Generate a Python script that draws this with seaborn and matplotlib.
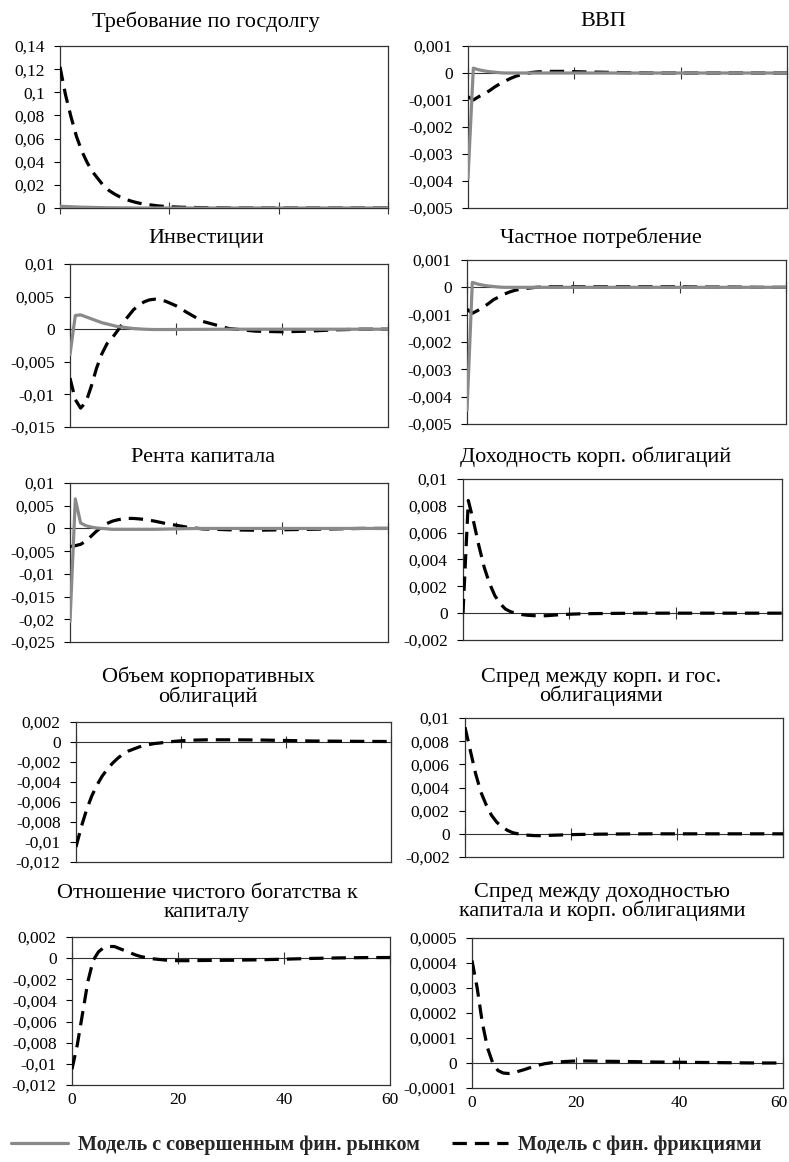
import matplotlib
matplotlib.use("Agg")
import matplotlib.pyplot as plt
import matplotlib.transforms as mtransforms
import seaborn as sns

# ---------------- data ----------------
T = [0, 1, 2, 3, 4, 5, 6, 7, 8, 9, 10, 11, 12, 13, 14, 15, 16,
     18, 20, 22, 25, 30, 35, 40, 45, 50, 55, 60]

titles = [
    "Требование по госдолгу",
    "ВВП",
    "Инвестиции",
    "Частное потребление",
    "Рента капитала",
    "Доходность корп. облигаций",
    "Объем корпоративных\nоблигаций",
    "Спред между корп. и гос.\nоблигациями",
    "Отношение чистого богатства к\nкапиталу",
    "Спред между доходностью\nкапитала и корп. облигациями",
]

series_names = ["Модель с совершенным фин. рынком", "Модель с фин. фрикциями"]

# perfect financial market model (grey solid)
perfect_debt = [0.0015, 0.0013, 0.0011, 0.0009, 0.0007, 0.0006, 0.0005, 0.0004, 0.0003, 0.0002, 0.0002,
                0.0001, 0.0001, 0.0001, 0, 0, 0, 0, 0, 0, 0, 0, 0, 0, 0, 0, 0, 0]
perfect_gdp = [-0.0039, 0.00018, 0.00012, 0.00008, 0.00005, 0.00003, 0.00001, 0, 0, 0, 0,
               0, 0, 0, 0, 0, 0, 0, 0, 0, 0, 0, 0, 0, 0, 0, 0, 0]
perfect_inv = [-0.0039, 0.0021, 0.0022, 0.0019, 0.0016, 0.0013, 0.001, 0.0008, 0.0006, 0.0004, 0.0003,
               0.0002, 0.0001, 0.00005, 0, -0.00003, -0.00005, -0.00005, -0.00004, -0.00003, -0.00002,
               0, 0, 0, 0, 0, 0, 0]
perfect_cons = [-0.0045, 0.00018, 0.00012, 0.00008, 0.00005, 0.00003, 0.00001, 0, 0, 0, 0,
                0, 0, 0, 0, 0, 0, 0, 0, 0, 0, 0, 0, 0, 0, 0, 0, 0]
perfect_rent = [-0.0205, 0.0065, 0.0012, 0.0006, 0.0003, 0.0001, 0, -0.0001, -0.0002, -0.0002, -0.0002,
                -0.0002, -0.0002, -0.0002, -0.0002, -0.0002, -0.0002, -0.00015, -0.0001, -0.00005, 0,
                0, 0, 0, 0, 0, 0, 0]

# model with financial frictions (black dashed)
fric_debt = [0.122, 0.098, 0.079, 0.062, 0.049, 0.039, 0.031, 0.025, 0.019, 0.015, 0.012,
             0.0095, 0.0075, 0.006, 0.0047, 0.0037, 0.003, 0.0018, 0.0011, 0.0007, 0.0004,
             0.0001, 0, 0, 0, 0, 0, 0]
fric_gdp = [-0.00088, -0.001, -0.00088, -0.00077, -0.00066, -0.00052, -0.0004, -0.0003, -0.0002,
            -0.00012, -0.00006, -0.00002, 0.00002, 0.00004, 0.00005, 0.00006, 0.00006, 0.00006,
            0.00005, 0.00004, 0.00003, 0.00001, 0, 0, 0, 0, 0, 0]
fric_inv = [-0.0075, -0.0108, -0.0121, -0.0112, -0.0088, -0.006, -0.0038, -0.0022, -0.0013, -0.0002,
            0.001, 0.002, 0.003, 0.0037, 0.0042, 0.0045, 0.0046, 0.0043, 0.0036, 0.0026, 0.0012,
            0.0001, -0.0003, -0.0004, -0.0003, -0.0001, 0, 0]
fric_cons = [-0.0008, -0.00095, -0.00085, -0.00073, -0.0006, -0.00045, -0.00035, -0.00025, -0.00017,
             -0.00011, -0.00007, -0.00004, -0.00002, 0, 0.00001, 0.00002, 0.00002, 0.00002, 0.00002,
             0.00002, 0.00002, 0.00002, 0.00002, 0.00002, 0.00001, 0.00001, 0, 0]
fric_rent = [-0.004, -0.0038, -0.0035, -0.0028, -0.0017, -0.0006, 0.0003, 0.0011, 0.0016, 0.0019,
             0.0021, 0.0022, 0.0022, 0.0021, 0.002, 0.0018, 0.0016, 0.0011, 0.0007, 0.0003, -0.0001,
             -0.0003, -0.0004, -0.0003, -0.0002, -0.0001, 0, 0]
fric_yield = [0, 0.0084, 0.0068, 0.005, 0.0034, 0.0022, 0.0013, 0.0007, 0.0003, 0.0001, 0,
              -0.0001, -0.00015, -0.00018, -0.0002, -0.0002, -0.00018, -0.00012, -0.00008, -0.00005,
              -0.00003, -0.00001, 0, 0, 0, 0, 0, 0]
fric_volume = [-0.0105, -0.0085, -0.0068, -0.0054, -0.0043, -0.0034, -0.0027, -0.0021, -0.0016, -0.0012,
               -0.0009, -0.0007, -0.0005, -0.00035, -0.00025, -0.00015, -0.0001, 0.00003, 0.00012,
               0.00018, 0.00022, 0.00022, 0.0002, 0.00015, 0.0001, 0.00008, 0.00006, 0.00005]
fric_spread_cg = [0.0092, 0.0072, 0.0052, 0.0036, 0.0025, 0.0016, 0.001, 0.0006, 0.0003, 0.0001, 0,
                  -0.0001, -0.00012, -0.00015, -0.00016, -0.00015, -0.00013, -0.0001, -0.00007,
                  -0.00005, -0.00003, -0.00001, 0, 0, 0, 0, 0, 0]
fric_networth = [-0.0105, -0.0082, -0.0052, -0.0022, -0.0002, 0.0006, 0.001, 0.0011, 0.0011, 0.0009,
                 0.0007, 0.0005, 0.0003, 0.00015, 0.00005, -0.00005, -0.0001, -0.0002, -0.00024,
                 -0.00024, -0.00022, -0.0002, -0.00016, -0.0001, -0.00003, 0.00002, 0.00005, 0.00006]
fric_spread_kb = [0.00041, 0.0003, 0.00016, 0.00006, 0, -0.00003, -0.00004, -0.000042, -0.00004,
                  -0.000033, -0.000027, -0.00002, -0.000014, -0.000008, -0.000003, 0, 0.000003,
                  0.000006, 0.000008, 0.000008, 0.000007, 0.000006, 0.000004, 0.000003, 0.000002,
                  0.000001, 0, 0]

perfect = [perfect_debt, perfect_gdp, perfect_inv, perfect_cons, perfect_rent,
           None, None, None, None, None]
friction = [fric_debt, fric_gdp, fric_inv, fric_cons, fric_rent,
            fric_yield, fric_volume, fric_spread_cg, fric_networth, fric_spread_kb]

y_limits = [(0, 0.14), (-0.005, 0.001), (-0.015, 0.01), (-0.005, 0.001), (-0.025, 0.01),
            (-0.002, 0.01), (-0.012, 0.002), (-0.002, 0.01), (-0.012, 0.002), (-0.0001, 0.0005)]
y_steps = [0.02, 0.001, 0.005, 0.001, 0.005, 0.002, 0.002, 0.002, 0.002, 0.0001]
x_ticks = [0, 20, 40, 60]

# ---------------- layout (pixels) ----------------
W, H = 789, 1162
boxes = [  # left, right, top, bottom
    (60, 388, 46, 208), (468, 787, 46, 208),
    (70, 388, 264, 427), (467, 786, 260, 424),
    (70, 388, 483, 642), (463, 782, 479, 640),
    (76, 391, 722, 862), (465, 783, 718, 857),
    (72, 390, 937, 1085), (472, 783, 938, 1088),
]
title_pos = [(206, 22), (603, 22), (206, 239), (601, 238), (203, 458), (596, 457),
             (208, 687), (601, 687), (207, 903), (602, 902)]

sns.set_theme(style="white")
plt.rcParams["font.family"] = ["Liberation Serif", "DejaVu Serif"]

GREY = "#8a8a8a"
DASH = (0, (4.5, 2.5))


def fmt(v):
    s = f"{round(v, 7):.6f}".rstrip("0").rstrip(".")
    if s in ("-0", ""):
        s = "0"
    return s.replace(".", ",")


fig = plt.figure(figsize=(W / 100, H / 100), dpi=100)
fig.patch.set_facecolor("white")

legend_handles = [None, None]
for i in range(10):
    l, r, t, b = boxes[i]
    ax = fig.add_axes([l / W, 1 - b / H, (r - l) / W, (b - t) / H])
    ax.set_facecolor("white")

    sns.lineplot(x=T, y=friction[i], ax=ax, color="black", linewidth=2.3,
                 linestyle=DASH, legend=False, zorder=3)
    if legend_handles[1] is None:
        legend_handles[1] = ax.lines[-1]
    if perfect[i] is not None:
        sns.lineplot(x=T, y=perfect[i], ax=ax, color=GREY, linewidth=2.3,
                     legend=False, zorder=4)
        if legend_handles[0] is None:
            legend_handles[0] = ax.lines[-1]

    ymin, ymax = y_limits[i]
    step = y_steps[i]
    n = int(round((ymax - ymin) / step))
    yt = [round(ymin + k * step, 7) for k in range(n + 1)]
    ax.set_ylim(ymin, ymax)
    ax.set_yticks(yt)
    ax.set_yticklabels([fmt(v) for v in yt])
    ax.set_xlim(0, 60)
    ax.set_xticks(x_ticks)
    ax.set_xlabel("")
    ax.set_ylabel("")
    ax.tick_params(axis="y", left=True, direction="out", length=4, width=0.8,
                   pad=7, labelsize=12.5, colors="black")
    bottom_row = i >= 8
    ax.tick_params(axis="x", bottom=False, length=0, labelbottom=bottom_row,
                   labelsize=12.5, pad=5, colors="black")
    if i == 9:
        last = ax.xaxis.get_major_ticks()[-1].label1
        last.set_transform(last.get_transform() +
                           mtransforms.ScaledTranslation(-4 / 100, 0, fig.dpi_scale_trans))
    for s in ax.spines.values():
        s.set_visible(True)
        s.set_color("#333333")
        s.set_linewidth(0.9)

    # horizontal axis crossing at zero with cross tick marks
    frac = (0 - ymin) / (ymax - ymin)
    sec = ax.secondary_xaxis(frac)
    sec.set_xticks(x_ticks)
    sec.tick_params(axis="x", direction="inout", length=8, width=0.8,
                    labelbottom=False, labeltop=False, colors="#333333")
    for s in sec.spines.values():
        s.set_color("#333333")
        s.set_linewidth(0.8)

    tx, ty = title_pos[i]
    fig.text(tx / W, 1 - ty / H, titles[i], ha="center", va="center",
             fontsize=16, linespacing=0.95, color="black")

fig.legend(handles=legend_handles, labels=series_names, loc="center",
           bbox_to_anchor=(0.49, 1 - 1145 / H), ncol=2, frameon=False,
           prop={"weight": "bold", "size": 14.5}, handlelength=2.8,
           columnspacing=1.6, handletextpad=0.5)

fig.savefig("out.png", dpi=100, facecolor="white")
